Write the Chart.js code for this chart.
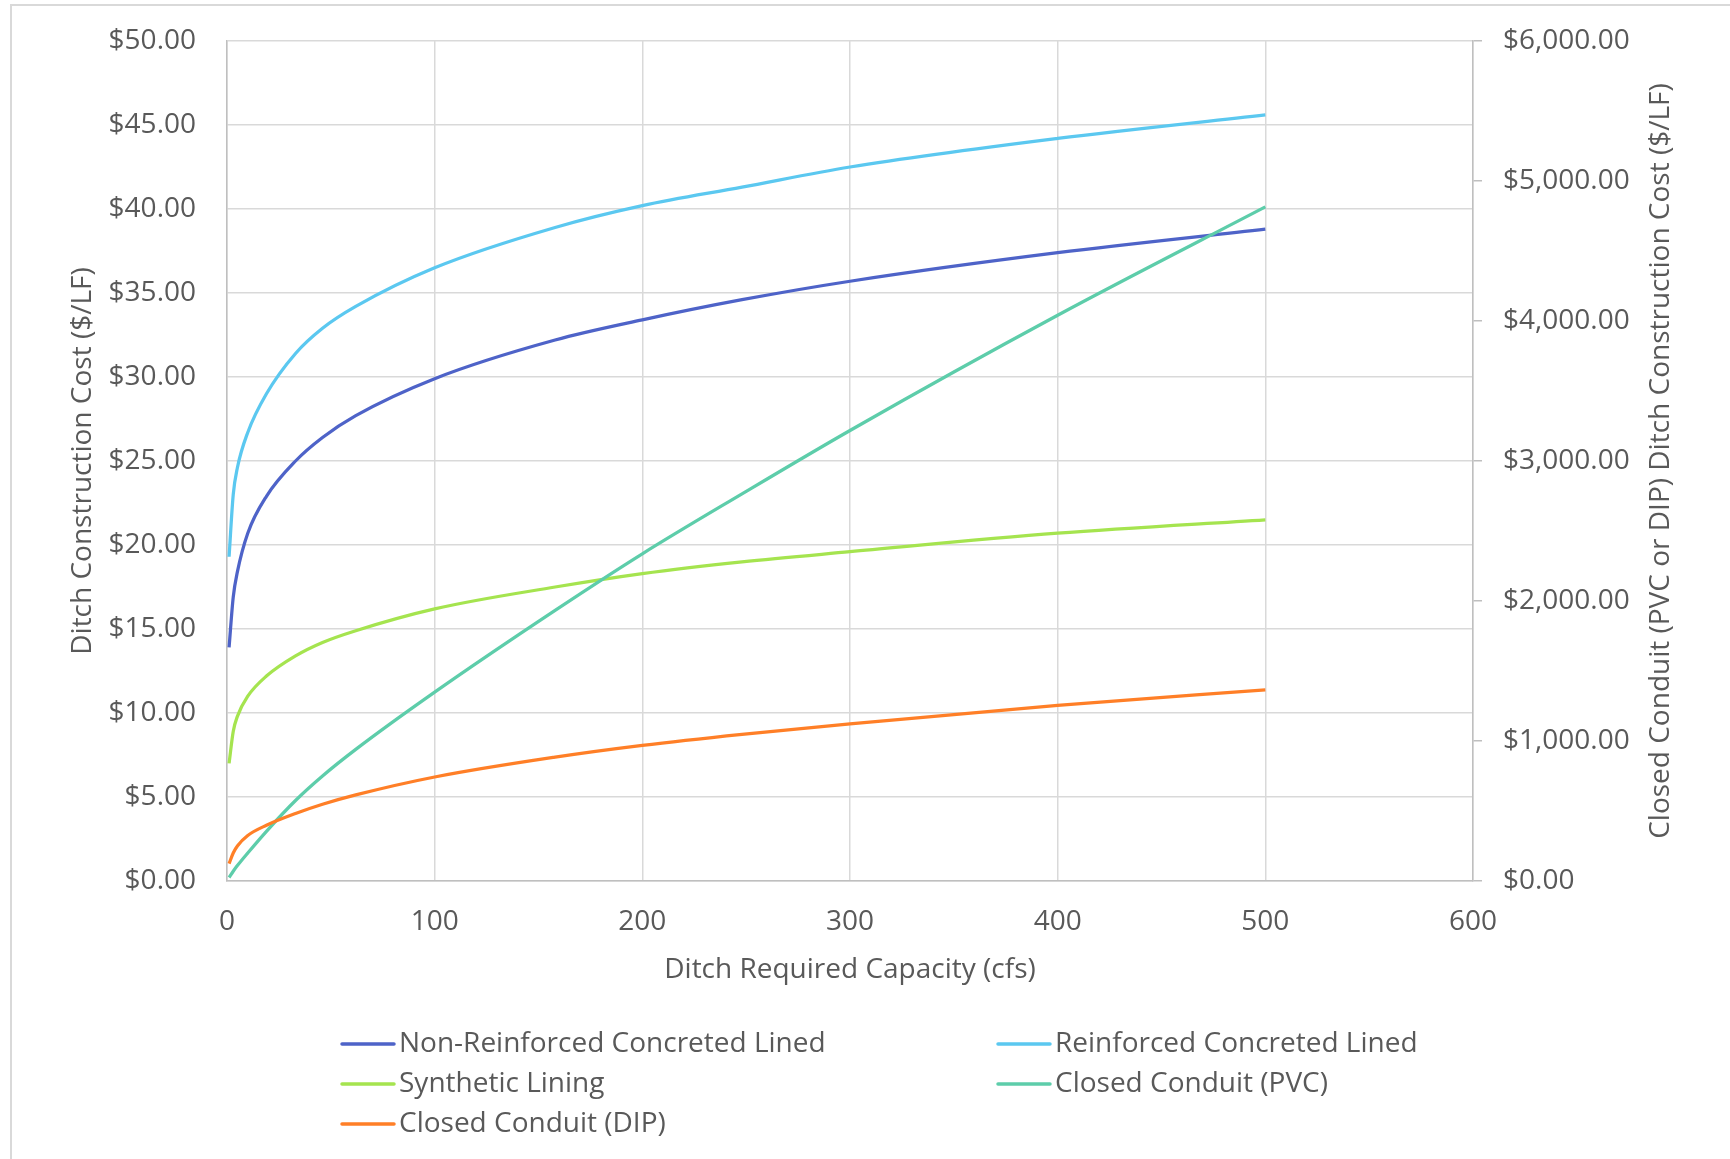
<!DOCTYPE html>
<html>
<head>
<meta charset="utf-8">
<script src="https://cdn.jsdelivr.net/npm/chart.js@4.4.1/dist/chart.umd.min.js"></script>
<style>
    html, body { margin: 0; padding: 0; background: #fff; }
    #wrap { position: relative; width: 1730px; height: 1159px; }
</style>
</head>
<body>
<div id="wrap"><canvas id="costChart" width="1730" height="1159"></canvas></div>
<script>
// values
var capacity = [1, 3, 5, 10, 19, 33, 46, 62, 100, 158, 200, 248, 300, 400, 500];
var nonReinforced = [13.9, 16.9, 18.4, 20.7, 22.9, 25.0, 26.4, 27.7, 29.9, 32.2, 33.4, 34.6, 35.7, 37.4, 38.8];
var reinforced = [19.3, 23.0, 24.6, 26.7, 29.0, 31.4, 32.9, 34.2, 36.5, 38.9, 40.2, 41.3, 42.5, 44.2, 45.6];
var synthetic = [7.0, 8.9, 9.8, 11.0, 12.2, 13.4, 14.2, 14.9, 16.2, 17.5, 18.3, 19.0, 19.6, 20.7, 21.5];
var conduitPVC = [25, 70, 110, 200, 355, 575, 750, 940, 1349, 1933, 2337, 2765, 3218, 4041, 4815];
var conduitDIP = [124, 200, 250, 325, 398, 482, 548, 615, 743, 885, 969, 1048, 1123, 1254, 1366];

var seriesNames = ['Non-Reinforced Concreted Lined', 'Reinforced Concreted Lined', 'Synthetic Lining', 'Closed Conduit (PVC)', 'Closed Conduit (DIP)'];
var seriesColors = ['#4e63c8', '#5bc8f0', '#a5e44f', '#5dcdaa', '#ff7f27'];

var textColor = '#595959';
var fontFamily = '"Open Sans", "DejaVu Sans", sans-serif';

function toPoints(ys) {
    return capacity.map(function(x, i) { return { x: x, y: ys[i] }; });
}

function money(v) {
    return '$' + Number(v).toLocaleString('en-US', { minimumFractionDigits: 2, maximumFractionDigits: 2 });
}

// frame, right axis title (reads bottom to top) and two-column legend
var extrasPlugin = {
    id: 'extras',
    beforeDraw: function(chart) {
        var ctx = chart.ctx;
        ctx.save();
        ctx.fillStyle = '#ffffff';
        ctx.fillRect(0, 0, chart.width, chart.height);
        ctx.strokeStyle = '#d9d9d9';
        ctx.lineWidth = 2;
        ctx.beginPath();
        ctx.moveTo(11, chart.height);
        ctx.lineTo(11, 5);
        ctx.lineTo(chart.width, 5);
        ctx.stroke();
        ctx.restore();
    },
    afterDraw: function(chart) {
        var ctx = chart.ctx;
        ctx.save();
        ctx.fillStyle = textColor;
        ctx.font = '28px ' + fontFamily;
        ctx.textAlign = 'center';
        ctx.textBaseline = 'middle';
        ctx.translate(1661, (chart.chartArea.top + chart.chartArea.bottom) / 2);
        ctx.rotate(-Math.PI / 2);
        ctx.fillText('Closed Conduit (PVC or DIP) Ditch Construction Cost ($/LF)', 0, 0);
        ctx.restore();

        var cols = [342, 998];
        var rows = [1044, 1084, 1124];
        ctx.save();
        ctx.font = '28px ' + fontFamily;
        ctx.textAlign = 'left';
        ctx.textBaseline = 'middle';
        chart.data.datasets.forEach(function(ds, i) {
            var x = cols[i % 2];
            var y = rows[Math.floor(i / 2)];
            ctx.strokeStyle = ds.borderColor;
            ctx.lineWidth = 3.5;
            ctx.lineCap = 'round';
            ctx.beginPath();
            ctx.moveTo(x, y);
            ctx.lineTo(x + 52, y);
            ctx.stroke();
            ctx.fillStyle = textColor;
            ctx.fillText(ds.label, x + 57, y);
        });
        ctx.restore();
    }
};

var datasets = [
    { label: seriesNames[0], data: toPoints(nonReinforced), yAxisID: 'y' },
    { label: seriesNames[1], data: toPoints(reinforced), yAxisID: 'y' },
    { label: seriesNames[2], data: toPoints(synthetic), yAxisID: 'y' },
    { label: seriesNames[3], data: toPoints(conduitPVC), yAxisID: 'y2' },
    { label: seriesNames[4], data: toPoints(conduitDIP), yAxisID: 'y2' }
].map(function(ds, i) {
    ds.borderColor = seriesColors[i];
    ds.backgroundColor = seriesColors[i];
    ds.borderWidth = 3.25;
    ds.pointRadius = 0;
    ds.fill = false;
    ds.cubicInterpolationMode = 'monotone';
    ds.order = 5 - i;
    return ds;
});

var ctx = document.getElementById('costChart').getContext('2d');
var costChart = new Chart(ctx, {
    type: 'line',
    data: { datasets: datasets },
    options: {
        responsive: false,
        animation: false,
        layout: { padding: { top: 41, left: 0, right: 0, bottom: 168 } },
        plugins: {
            legend: { display: false },
            tooltip: { enabled: false }
        },
        scales: {
            x: {
                type: 'linear',
                min: 0,
                max: 600,
                ticks: {
                    stepSize: 100,
                    color: textColor,
                    font: { family: fontFamily, size: 28 },
                    padding: 24,
                    maxRotation: 0
                },
                grid: { color: '#d9d9d9', lineWidth: 1.5, drawTicks: false },
                border: { color: '#bfbfbf', width: 1.5 },
                title: {
                    display: true,
                    text: 'Ditch Required Capacity (cfs)',
                    color: textColor,
                    font: { family: fontFamily, size: 28 },
                    padding: { top: 0, bottom: 4 }
                },
                afterFit: function(scale) {
                    scale.height = 110;
                    scale.paddingLeft = 0;
                    scale.paddingRight = 0;
                }
            },
            y: {
                position: 'left',
                min: 0,
                max: 50,
                ticks: {
                    stepSize: 5,
                    color: textColor,
                    font: { family: fontFamily, size: 28 },
                    padding: 31,
                    callback: function(v) { return money(v); }
                },
                grid: { color: '#d9d9d9', lineWidth: 1.5, drawTicks: false },
                border: { color: '#bfbfbf', width: 1.5 },
                title: {
                    display: true,
                    text: 'Ditch Construction Cost ($/LF)',
                    color: textColor,
                    font: { family: fontFamily, size: 28 },
                    padding: { top: 66, bottom: 0 }
                },
                afterFit: function(scale) {
                    scale.width = 227;
                    scale.paddingTop = 0;
                    scale.paddingBottom = 0;
                }
            },
            y2: {
                position: 'right',
                min: 0,
                max: 6000,
                ticks: {
                    stepSize: 1000,
                    color: textColor,
                    font: { family: fontFamily, size: 28 },
                    padding: 21,
                    callback: function(v) { return money(v); }
                },
                grid: { drawOnChartArea: false, drawTicks: true, tickLength: 9, color: '#bfbfbf', lineWidth: 1.5 },
                border: { color: '#bfbfbf', width: 1.5 },
                afterFit: function(scale) {
                    scale.width = 257;
                    scale.paddingTop = 0;
                    scale.paddingBottom = 0;
                }
            }
        }
    },
    plugins: [extrasPlugin]
});
</script>
</body>
</html>
